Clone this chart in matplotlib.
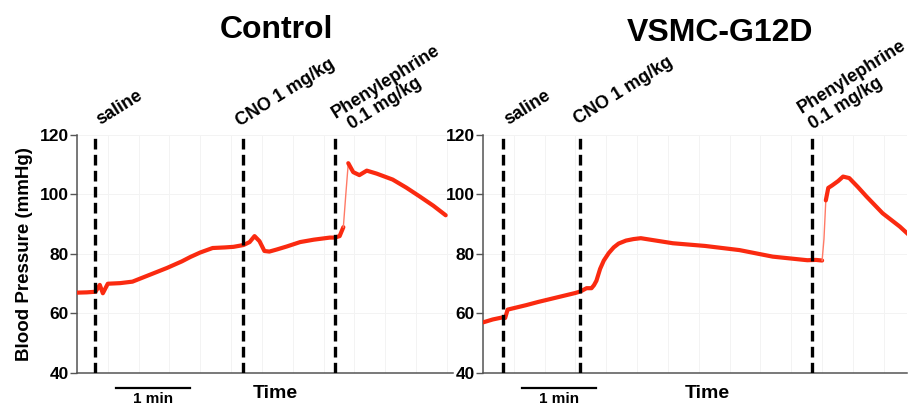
"""Blood pressure traces: Control vs VSMC-G12D with injection markers."""

import matplotlib

matplotlib.use("Agg")
import matplotlib.pyplot as plt
import numpy as np
from matplotlib.ticker import MultipleLocator

plt.rcParams["font.family"] = ["Liberation Sans", "DejaVu Sans"]
plt.rcParams["font.weight"] = "bold"

# time in seconds, pressure in mmHg
ctrl_t = [0, 8, 15, 18.5, 21, 25, 35, 45, 59, 73, 85, 92, 100, 110, 120, 127, 135,
          140, 144, 148, 152, 156, 162, 170, 181, 192, 205, 209, 213, 216, 218, 220,
          224, 229, 235, 243, 256, 267, 278, 289, 299]
ctrl_bp = [67, 67.1, 67.3, 69.6, 66.8, 70, 70.2, 70.7, 73, 75.3, 77.5, 79, 80.5, 82,
           82.2, 82.4, 83, 84, 86, 84.3, 81, 80.8, 81.5, 82.5, 84, 84.8, 85.5, 85.5,
           86, 89, 100, 110.5, 107.5, 106.5, 108, 107, 105, 102.3, 99.3, 96.2, 93]

g12_t = [0, 8, 16, 18, 20, 25, 35, 45, 55, 65, 75, 79, 84, 88, 90, 92, 95, 98, 102,
         106, 110, 116, 122, 128, 154, 180, 208, 235, 263, 270, 275, 276.5, 278, 280,
         283, 288, 292, 297, 304, 311, 324, 338, 348]
g12_bp = [57, 58, 58.7, 58.5, 61.3, 61.8, 62.8, 63.9, 64.9, 65.9, 66.9, 67.4, 68.5,
          68.5, 69.5, 71, 75, 77.8, 80.3, 82.2, 83.5, 84.5, 85, 85.3, 83.6, 82.7, 81.3,
          79.1, 77.9, 78, 77.8, 85, 98, 102.2, 103, 104.5, 106, 105.5, 102.5, 99.3,
          93.7, 89.2, 85.4]

ctrl_events = [14.6, 134.6, 209.0]
g12_events = [16.2, 78.6, 266.8]
# one label per text line; the last event carries two lines
event_labels = [["saline"], ["CNO 1 mg/kg"], ["Phenylephrine", "0.1 mg/kg"]]

# label baseline offsets (points) from the top of each dashed line
ctrl_offsets = [[(3.6, 7.2)], [(-2.0, 6.0)], [(1.0, 11.5), (12.5, 3.6)]]
g12_offsets = [[(3.6, 7.2)], [(-1.4, 7.2)], [(-7.5, 15.5), (0.8, 3.6)]]

panels = [
    ("Control", ctrl_t, ctrl_bp, ctrl_events, ctrl_offsets, 304.9,
     [0.0842, 0.0835, 0.4114, 0.585], 0.527, 0.53, 0.927),
    ("VSMC-G12D", g12_t, g12_bp, g12_events, g12_offsets, 343.8,
     [0.5284, 0.0835, 0.4639, 0.585], 0.53, 0.56, 0.92),
]

TRACE = "#fa2a10"


def _plot_trace(ax, t, bp):
    # the recorder draws fast jumps as a thin, faint stroke
    t = np.asarray(t, float)
    bp = np.asarray(bp, float)
    steep = np.abs(np.diff(bp) / np.diff(t)) > 3.0
    start = 0
    for i in range(1, len(steep) + 1):
        if i == len(steep) or steep[i] != steep[start]:
            sl = slice(start, i + 1)
            if steep[start]:
                ax.plot(t[sl], bp[sl], color="#ff7a66", lw=1.0, zorder=3)
            else:
                ax.plot(t[sl], bp[sl], color=TRACE, lw=3.0, zorder=3,
                        solid_capstyle="round")
            start = i


fig = plt.figure(figsize=(9.14, 4.07), dpi=100)

for title, t, bp, events, offsets, xmax, rect, time_x, title_x, title_y in panels:
    ax = fig.add_axes(rect)
    _plot_trace(ax, t, bp)
    for x_ev, lines, offs in zip(events, event_labels, offsets):
        ax.axvline(x_ev, color="black", lw=2.4, ls=(0, (3.2, 1.6)), zorder=4)
        for text, (dx, dy) in zip(lines, offs):
            ax.annotate(text, xy=(x_ev, 120), xytext=(dx, dy),
                        textcoords="offset points", rotation=32,
                        rotation_mode="anchor", ha="left", va="baseline",
                        fontsize=13, fontweight="bold", annotation_clip=False)
    ax.set_xlim(0, xmax)
    ax.set_ylim(40, 120)
    ax.set_yticks([40, 60, 80, 100, 120])
    ax.xaxis.set_major_locator(MultipleLocator(25))
    ax.tick_params(axis="x", length=0, labelbottom=False)
    ax.tick_params(axis="y", length=5, width=1, direction="out", color="#555555",
                   labelsize=12.5, pad=1)
    for lab in ax.get_yticklabels():
        lab.set_fontweight("bold")
    ax.grid(True, color="#f3f3f3", lw=0.7, zorder=0)
    for side in ("top", "right"):
        ax.spines[side].set_visible(False)
    for side in ("left", "bottom"):
        ax.spines[side].set_color("#555555")
        ax.spines[side].set_linewidth(1.1)

    # 1 min scale bar below the axis
    ax.plot([31.6, 91.6], [35, 35], color="black", lw=1.6, clip_on=False)
    ax.text(61.6, 31.2, "1 min", ha="center", va="center", fontsize=11,
            fontweight="bold")
    ax.text(time_x, -0.085, "Time", transform=ax.transAxes, ha="center", va="center",
            fontsize=14, fontweight="bold")
    fig.text(rect[0] + rect[2] * title_x, title_y, title, ha="center", va="center",
             fontsize=23, fontweight="bold")

    if title == "Control":
        ax.set_ylabel("Blood Pressure (mmHg)", fontsize=13.5, fontweight="bold",
                      labelpad=5)

fig.savefig("out.png", dpi=100)
